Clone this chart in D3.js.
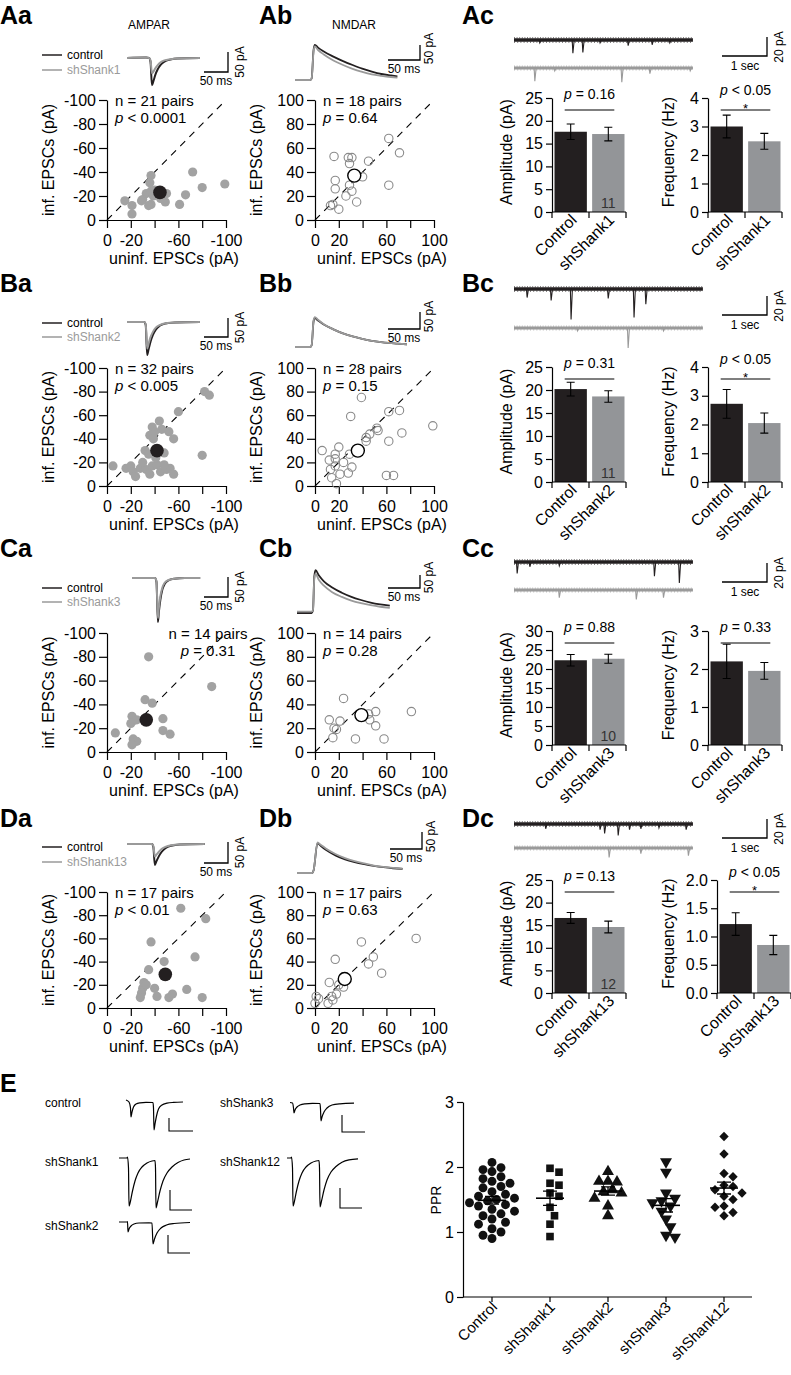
<!DOCTYPE html>
<html><head><meta charset="utf-8">
<script src="https://cdn.jsdelivr.net/npm/d3@7/dist/d3.min.js"></script>
<style>html,body{margin:0;padding:0;background:#fff;}svg{display:block;}</style>
</head><body>
<script>
// ================= DATA =================
const rowLetters = ["A","B","C","D"];
const knockdowns = ["shShank1","shShank2","shShank3","shShank13"];

// AMPAR scatter: [uninfected EPSC, infected EPSC] (pA)
const ampaA = [[-15,-16],[-21,-12],[-21,-5],[-37,-37],[-36,-31],[-33,-22],[-30,-17],[-37,-13],[-39,-20],[-37,-24],[-50,-22],[-49,-15],[-61,-13],[-66,-21],[-72,-40],[-80,-27],[-99,-30],[-40,-25],[-29,-16],[-35,-12],[-45,-18]];
const ampaB = [[-82,-80],[-86,-77],[-60,-63],[-44,-55],[-38,-50],[-40,-46],[-36,-43],[-39,-40],[-46,-48],[-52,-46],[-56,-40],[-32,-30],[-80,-26],[-48,-28],[-5,-17],[-16,-15],[-20,-17],[-22,-12],[-28,-15],[-33,-14],[-38,-17],[-42,-18],[-45,-12],[-50,-14],[-53,-15],[-56,-10],[-24,-8],[-36,-10],[-48,-18],[-30,-20],[-41,-24],[-35,-27]];
const ampaC = [[-32,-44],[-38,-41],[-21,-30],[-20,-24],[-7,-16],[-22,-11],[-25,-9],[-21,-6],[-47,-28],[-47,-18],[-53,-15],[-88,-55],[-35,-80],[-25,-27]];
const ampaD = [[-37,-57],[-35,-33],[-48,-40],[-74,-44],[-31,-22],[-30,-17],[-29,-13],[-28,-9],[-40,-17],[-42,-10],[-52,-9],[-55,-12],[-67,-16],[-80,-9],[-62,-86],[-83,-77],[-33,-20]];
const ampaMeans = [[-44.5,-23,3,3],[-42,-30,3,3],[-33,-27,4,4],[-49,-29,4,5]];
const ampaN = [21,32,14,17];
const ampaP = ["< 0.0001","< 0.005","= 0.31","< 0.01"];

// NMDAR scatter
const nmdaA = [[13,12],[15,13],[20,9],[17,26],[17,33],[16,53],[26,20],[28,52],[31,52],[29,47],[31,24],[35,15],[40,36],[45,49],[62,29],[62,68],[71,56],[29,29]];
const nmdaB = [[39,75],[30,59],[62,63],[71,64],[99,51],[52,49],[53,47],[43,41],[43,38],[73,45],[62,38],[20,33],[17,27],[29,27],[6,30],[17,23],[13,14],[14,7],[17,17],[21,10],[28,11],[31,16],[18,2],[60,9],[66,9],[12,22],[24,20],[46,44]];
const nmdaC = [[24,45],[12,27],[21,26],[18,19],[15,12],[34,11],[45,32],[51,34],[46,27],[51,22],[58,11],[81,34],[40,30],[16,20]];
const nmdaD = [[39,57],[17,42],[45,38],[49,44],[56,30],[12,22],[24,18],[18,12],[14,10],[15,7],[11,4],[1,10],[3,8],[0,4],[24,27],[85,60],[20,20]];
const nmdaMeans = [[33,37,3,3],[36,30,3,3],[39,31,4,4],[25,25,3,3]];
const nmdaN = [18,28,14,17];
const nmdaP = ["= 0.64","= 0.15","= 0.28","= 0.63"];

// mEPSC bars
const ampCtrl = [17.6,20.2,22.3,16.6];
const ampCtrlErr = [1.7,1.5,1.5,1.2];
const ampKd = [17.1,18.6,22.7,14.6];
const ampKdErr = [1.5,1.25,1.2,1.3];
const ampCellN = ["11","11","10","12"];
const ampP = ["= 0.16","= 0.31","= 0.88","= 0.13"];
const ampMax = [25,25,30,25];
const freqCtrl = [3.0,2.72,2.2,1.22];
const freqCtrlErr = [0.4,0.5,0.45,0.2];
const freqKd = [2.48,2.05,1.95,0.85];
const freqKdErr = [0.28,0.35,0.22,0.17];
const freqP = ["< 0.05","< 0.05","= 0.33","< 0.05"];
const freqStar = [true,true,false,true];
const freqTicks = [[0,1,2,3,4],[0,1,2,3,4],[0,1,2,3],[0,0.5,1,1.5,2]];

// Example EPSC traces [ms, pA]
const ampaTrCtrl = [
 [[0,0],[40,1],[46,0],[49,-10],[52,-68],[55,-58],[59,-42],[64,-28],[70,-17],[78,-9],[90,-4],[105,-1],[152,0]],
 [[0,0],[36,0],[39,-8],[42,-87],[45,-72],[49,-52],[54,-34],[60,-20],[68,-10],[80,-4],[100,-1],[152,0]],
 [[0,0],[48,0],[51,-10],[54,-110],[56,-85],[59,-55],[63,-30],[68,-15],[76,-6],[88,-2],[110,0],[142,0]],
 [[0,0],[52,0],[55,-8],[58,-50],[61,-42],[66,-30],[72,-19],[80,-10],[92,-4],[110,-1],[162,0]]];
const ampaTrKd = [
 [[0,0],[40,1],[46,0],[49,-6],[52,-38],[55,-34],[59,-26],[64,-18],[70,-11],[78,-6],[90,-3],[105,-1],[152,0]],
 [[0,0],[36,0],[39,-6],[42,-70],[45,-57],[49,-40],[54,-26],[60,-15],[68,-8],[80,-3],[100,-1],[152,0]],
 [[0,0],[48,0],[51,-8],[54,-100],[56,-75],[59,-46],[63,-25],[68,-12],[76,-5],[88,-2],[110,0],[142,0]],
 [[0,0],[52,0],[55,-5],[58,-30],[61,-26],[66,-19],[72,-12],[80,-7],[92,-3],[110,-1],[162,0]]];
const nmdaTrCtrl = [
 [[0,0],[24,0],[26,5],[29,100],[31,117],[36,108],[45,95],[60,78],[75,63],[90,50],[105,38],[120,28],[135,20],[150,15],[160,12]],
 [[0,0],[24,0],[26,5],[29,75],[31,85],[36,78],[45,66],[60,52],[75,40],[90,31],[105,24],[120,18],[140,13],[160,10],[175,8]],
 [[0,0],[23,0],[25,10],[27,140],[29,165],[34,145],[42,122],[55,98],[70,78],[85,62],[100,50],[115,40],[130,33],[145,28]],
 [[0,0],[24,0],[26,8],[32,88],[37,80],[45,68],[60,52],[75,40],[90,32],[105,26],[120,21],[135,17],[150,14],[165,12]]];
const nmdaTrKd = [
 [[0,0],[24,0],[26,5],[29,95],[31,112],[36,100],[45,85],[60,65],[75,50],[90,37],[105,27],[120,19],[135,14],[150,10],[160,8]],
 [[0,0],[24,0],[26,5],[29,78],[31,88],[36,80],[45,67],[60,52],[75,40],[90,31],[105,24],[120,18],[140,13],[160,10],[175,8]],
 [[0,5],[23,5],[25,12],[27,130],[29,150],[34,128],[42,105],[55,80],[70,62],[85,48],[100,38],[115,30],[130,24],[145,20]],
 [[0,0],[24,0],[26,8],[32,90],[37,83],[45,72],[60,56],[75,44],[90,35],[105,28],[120,22],[135,18],[150,15],[165,13]]];

// mEPSC sweeps: length (s) and events [time s, amplitude pA]
const sweepLen = [3.95,4.17,3.95,3.95];
const sweepCtrl = [
 [[0.57,3],[1.30,14],[1.52,13],[1.90,3],[2.52,6],[3.05,5],[3.44,3]],
 [[0.29,9],[0.82,12],[1.26,32],[2.08,10],[2.65,30],[2.91,16]],
 [[0.07,12],[0.35,5],[1.0,4],[3.1,15],[3.65,22]],
 [[0.7,5],[1.9,6],[2.0,10],[2.3,12],[2.55,6],[2.8,5],[3.2,4],[3.8,6]]];
const sweepKd = [
 [[0.46,14],[0.9,3],[2.38,15],[3.0,6],[3.89,3]],
 [[2.52,21],[1.4,3],[3.3,3]],
 [[1.0,8],[2.7,10],[3.3,8]],
 [[2.1,10],[2.8,6],[3.85,8]]];

// Panel E: paired-pulse traces [ms, pA] and PPR values
const eNames = ["control","shShank1","shShank2","shShank3","shShank12"];
const eTraces = [
 [[0,20],[6,0],[9,-60],[10,-150],[12,-100],[15,-50],[20,-20],[28,-8],[40,-3],[54,-5],[55,-60],[56,-280],[58,-220],[61,-140],[65,-70],[72,-30],[82,-12],[95,-4],[114,0]],
 [[0,0],[16,0],[17,10],[19,-100],[20,-480],[23,-430],[27,-330],[32,-230],[38,-150],[46,-90],[56,-50],[66,-30],[72,-25],[73,-100],[74,-500],[77,-440],[82,-330],[88,-230],[96,-150],[106,-90],[118,-45],[130,-20],[142,-10]],
 [[0,0],[16,0],[17,5],[18,-100],[20,-70],[24,-40],[30,-20],[40,-10],[60,-8],[66,-10],[68,-220],[71,-170],[76,-110],[84,-60],[95,-30],[110,-15],[142,-5]],
 [[0,5],[5,0],[7,-50],[8,-100],[10,-70],[14,-40],[20,-20],[30,-8],[45,-3],[60,-5],[61,-60],[62,-180],[64,-140],[68,-90],[74,-50],[84,-20],[100,-8],[128,-2]],
 [[0,0],[8,0],[9,10],[11,-100],[12,-480],[15,-430],[19,-330],[24,-230],[30,-150],[38,-90],[48,-50],[58,-30],[64,-25],[65,-100],[66,-490],[69,-430],[74,-320],[80,-220],[88,-140],[98,-85],[110,-42],[124,-18],[142,-8]]];
const pprGroups = ["Control","shShank1","shShank2","shShank3","shShank12"];
const pprControl = [2.07,1.99,1.96,1.93,1.85,1.82,1.78,1.75,1.7,1.68,1.62,1.58,1.55,1.52,1.5,1.48,1.45,1.42,1.4,1.35,1.32,1.28,1.25,1.2,1.15,1.12,1.05,1.0,0.95,0.9];
const pprShank1 = [1.98,1.92,1.75,1.72,1.6,1.55,1.38,1.25,1.12,0.93];
const pprShank2 = [1.93,1.78,1.77,1.78,1.65,1.62,1.6,1.52,1.4,1.25];
const pprShank3 = [2.08,1.92,1.6,1.52,1.48,1.45,1.4,1.32,1.2,1.08,0.95,0.92];
const pprShank12 = [2.47,2.2,1.9,1.85,1.72,1.7,1.65,1.6,1.55,1.5,1.4,1.38,1.3,1.25];
const pprTicks = [0,1,2,3];

// ================= LAYOUT (positions only) =================
const FONT = '"Liberation Sans", Arial, Helvetica, sans-serif';
const BLK = "#231f20", BARGRAY = "#939598", DOT = "#a2a2a2", RING = "#8a8a8a", LEGGRAY = "#9a9a9a";
const ROWS = [
 {lab:24, leg:[55,70], aT:[127,58,0.4], aS:[228,72,20], nT:[295,80,0.3], nS:[420,60,15], top:100, bot:220, cT:[40,68], cS:56, bTop:98, bBot:212, fAx:708},
 {lab:292, leg:[323,337], aT:[127,322,0.38], aS:[228,337,19], nT:[295,347,0.34], nS:[420,329,17], top:368, bot:486, cT:[289,328], cS:315, bTop:367, bBot:482, fAx:708},
 {lab:557, leg:[588,602], aT:[132,578,0.4], aS:[228,597,20], nT:[297,613,0.26], nS:[420,588,13], top:633, bot:752, cT:[562,590], cS:582, bTop:631, bBot:745, fAx:708},
 {lab:827, leg:[847,862], aT:[127,844,0.42], aS:[228,863,21], nT:[297,873,0.34], nS:[422,849,17], top:892, bot:1008, cT:[824,848], cS:838, bTop:880, bBot:993, fAx:717}
];

const svg = d3.select("body").append("svg").attr("width",791).attr("height",1375).style("font-family",FONT);

function T(g,x,y,s,fs,o={}){
  const t=g.append("text").attr("x",x).attr("y",y).text(s).style("font-size",fs+"px").attr("fill",o.fill||"#000");
  if(o.anchor) t.attr("text-anchor",o.anchor);
  if(o.weight) t.style("font-weight",o.weight);
  if(o.rot!=null) t.attr("transform",`rotate(${o.rot},${x},${y})`);
  return t;
}
function PT(g,x,y,rest,fs,anchor){
  const t=g.append("text").attr("x",x).attr("y",y).style("font-size",fs+"px").attr("text-anchor",anchor||"start");
  t.append("tspan").style("font-style","italic").text("p");
  t.append("tspan").text(" "+rest);
  return t;
}
function styleAxis(g,fs){
  g.attr("font-size",null).attr("font-family",null);
  g.selectAll("path.domain").attr("stroke","#000").attr("stroke-width",1.2);
  g.selectAll(".tick line").attr("stroke","#000").attr("stroke-width",1.2);
  g.selectAll(".tick text").attr("fill","#000").style("font-size",fs+"px");
}
const line = d3.line();

rowLetters.forEach((R,i)=>{
  const L = ROWS[i];
  const g = svg.append("g");
  T(g,0,L.lab,R+"a",25,{weight:"bold"});
  T(g,259,L.lab,R+"b",25,{weight:"bold"});
  T(g,462,L.lab,R+"c",25,{weight:"bold"});
  if(i===0){ T(g,149,29,"AMPAR",12,{anchor:"middle"}); T(g,354,29,"NMDAR",12,{anchor:"middle"}); }

  // legend
  g.append("line").attr("x1",42).attr("x2",62).attr("y1",L.leg[0]).attr("y2",L.leg[0]).attr("stroke",BLK).attr("stroke-width",1.5);
  g.append("line").attr("x1",42).attr("x2",62).attr("y1",L.leg[1]).attr("y2",L.leg[1]).attr("stroke",LEGGRAY).attr("stroke-width",1.5);
  T(g,67,L.leg[0]+4,"control",12);
  T(g,67,L.leg[1]+4,knockdowns[i],12,{fill:LEGGRAY});

  // AMPA trace inset
  {
    const [x0,y0,k]=L.aT;
    const xs=d3.scaleLinear().domain([0,1]).range([x0,x0+0.48]);
    const ys=d3.scaleLinear().domain([0,1]).range([y0,y0-k]);
    const lg=d3.line().x(d=>xs(d[0])).y(d=>ys(d[1])).curve(d3.curveMonotoneX);
    g.append("path").attr("d",lg(ampaTrCtrl[i])).attr("fill","none").attr("stroke",BLK).attr("stroke-width",2);
    g.append("path").attr("d",lg(ampaTrKd[i])).attr("fill","none").attr("stroke",LEGGRAY).attr("stroke-width",2);
    const [cx,cy,h]=L.aS;
    g.append("path").attr("d",line([[cx-24,cy],[cx,cy],[cx,cy-h]])).attr("fill","none").attr("stroke","#000").attr("stroke-width",1.3);
    T(g,cx-12,cy+13,"50 ms",12,{anchor:"middle"});
    T(g,cx+16,cy-h/2,"50 pA",12,{anchor:"middle",rot:-90});
  }
  // NMDA trace inset
  {
    const [x0,y0,k]=L.nT;
    const xs=d3.scaleLinear().domain([0,1]).range([x0,x0+0.64]);
    const ys=d3.scaleLinear().domain([0,1]).range([y0,y0-k]);
    const lg=d3.line().x(d=>xs(d[0])).y(d=>ys(d[1])).curve(d3.curveMonotoneX);
    g.append("path").attr("d",lg(nmdaTrCtrl[i])).attr("fill","none").attr("stroke",BLK).attr("stroke-width",1.8);
    g.append("path").attr("d",lg(nmdaTrKd[i])).attr("fill","none").attr("stroke",LEGGRAY).attr("stroke-width",1.8);
    const [cx,cy,h]=L.nS;
    g.append("path").attr("d",line([[cx-32,cy],[cx,cy],[cx,cy-h]])).attr("fill","none").attr("stroke","#000").attr("stroke-width",1.3);
    T(g,cx-16,cy+13,"50 ms",12,{anchor:"middle"});
    T(g,cx+13,cy-h/2-4,"50 pA",12,{anchor:"middle",rot:-90});
  }

  // scatter panels
  const scat = (kind)=>{
    const ax = kind==="a"?107:315, sgn = kind==="a"?-1:1;
    const pts = kind==="a"?[ampaA,ampaB,ampaC,ampaD][i]:[nmdaA,nmdaB,nmdaC,nmdaD][i];
    const mean = kind==="a"?ampaMeans[i]:nmdaMeans[i];
    const x=d3.scaleLinear().domain([0,100*sgn]).range([ax,ax+119]);
    const y=d3.scaleLinear().domain([0,100*sgn]).range([L.bot,L.top]);
    const tv=d3.range(0,101,20).map(v=>v*sgn);
    const lab=[0,20,60,100].map(v=>v*sgn);
    g.append("g").attr("transform",`translate(${ax},0)`)
      .call(d3.axisLeft(y).tickValues(tv).tickSize(8).tickSizeOuter(0).tickPadding(3).tickFormat(d=>String(d)))
      .call(styleAxis,16);
    g.append("g").attr("transform",`translate(0,${L.bot})`)
      .call(d3.axisBottom(x).tickValues(tv).tickSize(8).tickSizeOuter(0).tickPadding(7).tickFormat(d=>lab.includes(d)?String(d):""))
      .call(styleAxis,16);
    g.append("line").attr("x1",x(0)).attr("y1",y(0)).attr("x2",x(100*sgn)).attr("y2",y(100*sgn))
      .attr("stroke","#000").attr("stroke-width",1.1).attr("stroke-dasharray","7,6");
    if(kind==="a"){
      g.selectAll(null).data(pts).join("circle").attr("cx",d=>x(d[0])).attr("cy",d=>y(d[1])).attr("r",4.6).attr("fill",DOT);
    } else {
      g.selectAll(null).data(pts).join("circle").attr("cx",d=>x(d[0])).attr("cy",d=>y(d[1])).attr("r",4.2).attr("fill","none").attr("stroke",RING).attr("stroke-width",1.1);
    }
    const [mx,my,ex,ey]=mean;
    g.append("line").attr("x1",x(mx)).attr("x2",x(mx)).attr("y1",y(my-ey)).attr("y2",y(my+ey)).attr("stroke","#000").attr("stroke-width",1.2);
    g.append("line").attr("y1",y(my)).attr("y2",y(my)).attr("x1",x(mx-ex)).attr("x2",x(mx+ex)).attr("stroke","#000").attr("stroke-width",1.2);
    if(kind==="a") g.append("circle").attr("cx",x(mx)).attr("cy",y(my)).attr("r",6.8).attr("fill",BLK);
    else g.append("circle").attr("cx",x(mx)).attr("cy",y(my)).attr("r",6.5).attr("fill","#fff").attr("stroke","#000").attr("stroke-width",1.4);
    T(g,kind==="a"?54:262,(L.top+L.bot)/2,"inf. EPSCs (pA)",16,{anchor:"middle",rot:-90});
    T(g,ax+67,L.bot+44,"uninf. EPSCs (pA)",16,{anchor:"middle"});
    const n = kind==="a"?ampaN[i]:nmdaN[i], p = kind==="a"?ampaP[i]:nmdaP[i];
    if(kind==="a" && i===2){
      T(g,208,L.top+6,`n = ${n} pairs`,15,{anchor:"middle"});
      PT(g,208,L.top+23,p,15,"middle");
    } else {
      T(g,ax+8,L.top+6,`n = ${n} pairs`,15);
      PT(g,ax+8,L.top+23,p,15);
    }
  };
  scat("a"); scat("n");

  // mEPSC sweeps
  {
    const xs=d3.scaleLinear().domain([0,1]).range([514,514+45.3]);
    const draw=(ev,y0,col,w)=>{
      g.append("line").attr("x1",xs(0)).attr("x2",xs(sweepLen[i])).attr("y1",y0).attr("y2",y0).attr("stroke",col).attr("stroke-width",w);
      g.append("line").attr("x1",xs(0)).attr("x2",xs(sweepLen[i])).attr("y1",y0-w/2-0.4).attr("y2",y0-w/2-0.4).attr("stroke",col).attr("stroke-width",0.8).attr("stroke-dasharray","1,1.6");
      g.append("line").attr("x1",xs(0)).attr("x2",xs(sweepLen[i])).attr("y1",y0+w/2+0.4).attr("y2",y0+w/2+0.4).attr("stroke",col).attr("stroke-width",0.8).attr("stroke-dasharray","1,2.2");
      g.selectAll(null).data(ev).join("path").attr("d",d=>line([[xs(d[0])-0.7,y0],[xs(d[0]),y0+d[1]*0.95],[xs(d[0])+1.3,y0]]))
        .attr("fill","none").attr("stroke",col).attr("stroke-width",1.1);
    };
    draw(sweepCtrl[i],L.cT[0],BLK,3.6);
    draw(sweepKd[i],L.cT[1],LEGGRAY,3);
    const cy=L.cS;
    g.append("path").attr("d",line([[722,cy],[767,cy],[767,cy-19]])).attr("fill","none").attr("stroke","#000").attr("stroke-width",1.3);
    T(g,745,cy+14,"1 sec",12,{anchor:"middle"});
    T(g,783,cy-9,"20 pA",12,{anchor:"middle",rot:-90});
  }

  // bar charts
  const bars=(axX,maxV,ticks,fmt,vals,errs,cellN,p,star,title,titleX)=>{
    const y=d3.scaleLinear().domain([0,maxV]).range([L.bBot,L.bTop]);
    const cats=["Control",knockdowns[i]];
    const x=d3.scaleBand().domain(cats).range([axX+1,axX+74]).paddingInner(0.14).paddingOuter(0.04);
    g.selectAll(null).data(cats).join("rect").attr("x",d=>x(d)).attr("width",x.bandwidth())
      .attr("y",(d,j)=>y(vals[j])).attr("height",(d,j)=>y(0)-y(vals[j])).attr("fill",(d,j)=>j?BARGRAY:BLK);
    cats.forEach((c,j)=>{
      const cx=x(c)+x.bandwidth()/2, lo=y(vals[j]-errs[j]), hi=y(vals[j]+errs[j]);
      g.append("path").attr("d",line([[cx-4,hi],[cx+4,hi]])+line([[cx,hi],[cx,lo]])+line([[cx-4,lo],[cx+4,lo]]))
        .attr("fill","none").attr("stroke","#000").attr("stroke-width",1.1);
      T(g,cx+7,L.bBot+9,c,16,{anchor:"end",rot:-45});
    });
    g.append("g").attr("transform",`translate(${axX},0)`)
      .call(d3.axisLeft(y).tickValues(ticks).tickSize(6).tickSizeOuter(0).tickPadding(3).tickFormat(fmt))
      .call(styleAxis,16);
    g.append("path").attr("d",line([[axX,L.bBot],[axX+74,L.bBot]])+line([[axX,L.bBot],[axX,L.bBot+6]])+line([[axX+37,L.bBot],[axX+37,L.bBot+6]])+line([[axX+74,L.bBot],[axX+74,L.bBot+6]]))
      .attr("fill","none").attr("stroke","#000").attr("stroke-width",1.2);
    const c0=x(cats[0])+x.bandwidth()/2, c1=x(cats[1])+x.bandwidth()/2;
    g.append("line").attr("x1",c0-6).attr("x2",c1+6).attr("y1",L.bTop+12).attr("y2",L.bTop+12).attr("stroke","#000").attr("stroke-width",1.1);
    if(star){
      PT(g,(c0+c1)/2,L.bTop-3,p,14,"middle");
      T(g,(c0+c1)/2,L.bTop+14.5,"*",13,{anchor:"middle"});
    } else {
      PT(g,(c0+c1)/2,L.bTop+1,p,14,"middle");
    }
    if(cellN) T(g,c1,L.bBot-4,cellN,14,{anchor:"middle",fill:"#333"});
    T(g,titleX,(L.bTop+L.bBot)/2-3,title,16,{anchor:"middle",rot:-90});
  };
  const amTicks=d3.range(0,ampMax[i]+1,5);
  bars(552,ampMax[i],amTicks,d=>String(d),[ampCtrl[i],ampKd[i]],[ampCtrlErr[i],ampKdErr[i]],ampCellN[i],ampP[i],false,"Amplitude (pA)",512);
  const ft=freqTicks[i];
  bars(L.fAx,ft[ft.length-1],ft,i===3?d3.format(".1f"):d=>String(d),[freqCtrl[i],freqKd[i]],[freqCtrlErr[i],freqKdErr[i]],null,freqP[i],freqStar[i],"Frequency (Hz)",674);
});

// ================= PANEL E =================
{
  const g=svg.append("g");
  T(g,0,1092,"E",25,{weight:"bold"});
  const lab=[[45,1107],[45,1166],[45,1230],[220,1107],[220,1166]];
  const org=[[126,1102],[119,1158],[119,1222],[290,1103],[287,1158]];
  const sb=[[169,1131,24,13],[170,1210,22,20],[168,1253,22,18],[342,1132,23,17],[340,1208,22,20]];
  eNames.forEach((nm,j)=>{
    T(g,lab[j][0],lab[j][1],nm,12);
    const xs=d3.scaleLinear().domain([0,1]).range([org[j][0],org[j][0]+0.5]);
    const ys=d3.scaleLinear().domain([0,1]).range([org[j][1],org[j][1]-0.1]);
    g.append("path").attr("d",d3.line().x(d=>xs(d[0])).y(d=>ys(d[1])).curve(d3.curveMonotoneX)(eTraces[j]))
      .attr("fill","none").attr("stroke","#000").attr("stroke-width",1.2);
    const [bx,by,bw,bh]=sb[j];
    g.append("path").attr("d",line([[bx,by-bh],[bx,by],[bx+bw,by]])).attr("fill","none").attr("stroke","#000").attr("stroke-width",1.1);
  });

  const y=d3.scaleLinear().domain([0,3]).range([1297,1102]);
  const x=d3.scalePoint().domain(pprGroups).range([492,724]);
  g.append("g").attr("transform","translate(463,0)")
    .call(d3.axisLeft(y).tickValues(pprTicks).tickSize(6).tickSizeOuter(0).tickPadding(3).tickFormat(d=>String(d)))
    .call(styleAxis,16);
  let axp=line([[463,1297],[752,1297]]);
  pprGroups.forEach(gp=>{axp+=line([[x(gp),1297],[x(gp),1302]]);});
  g.append("path").attr("d",axp).attr("fill","none").attr("stroke","#000").attr("stroke-width",1.2);
  T(g,441,1200,"PPR",14,{anchor:"middle",rot:-90});
  const sets=[pprControl,pprShank1,pprShank2,pprShank3,pprShank12];
  const syms=[d3.symbolCircle,d3.symbolSquare,d3.symbolTriangle,d3.symbolTriangle,d3.symbolSquare];
  const rots=[0,0,0,180,45];
  const sizes=[62,58,62,62,44];
  sets.forEach((vals,j)=>{
    const cx=x(pprGroups[j]);
    const placed=[];
    vals.forEach(v=>{
      const py=y(v);
      let px=cx;
      for(let k=0;k<60;k++){
        const off=k===0?0:(k%2?1:-1)*Math.ceil(k/2)*4.5;
        const cand=cx+off;
        if(placed.every(p=>Math.hypot(p[0]-cand,p[1]-py)>=8.6)){px=cand;break;}
      }
      placed.push([px,py]);
    });
    g.selectAll(null).data(placed).join("path")
      .attr("d",d3.symbol().type(syms[j]).size(sizes[j]))
      .attr("transform",d=>`translate(${d[0]},${d[1]}) rotate(${rots[j]})`).attr("fill","#111");
    const m=d3.mean(vals), se=d3.deviation(vals)/Math.sqrt(vals.length);
    g.append("path").attr("d",line([[cx-14,y(m)],[cx+14,y(m)]])).attr("stroke","#000").attr("stroke-width",1.6);
    g.append("path").attr("d",line([[cx,y(m-se)],[cx,y(m+se)]])+line([[cx-7,y(m-se)],[cx+7,y(m-se)]])+line([[cx-7,y(m+se)],[cx+7,y(m+se)]]))
      .attr("fill","none").attr("stroke","#000").attr("stroke-width",1.3);
    T(g,cx+6,1308,pprGroups[j],15,{anchor:"end",rot:-45});
  });
}
</script>
</body></html>
